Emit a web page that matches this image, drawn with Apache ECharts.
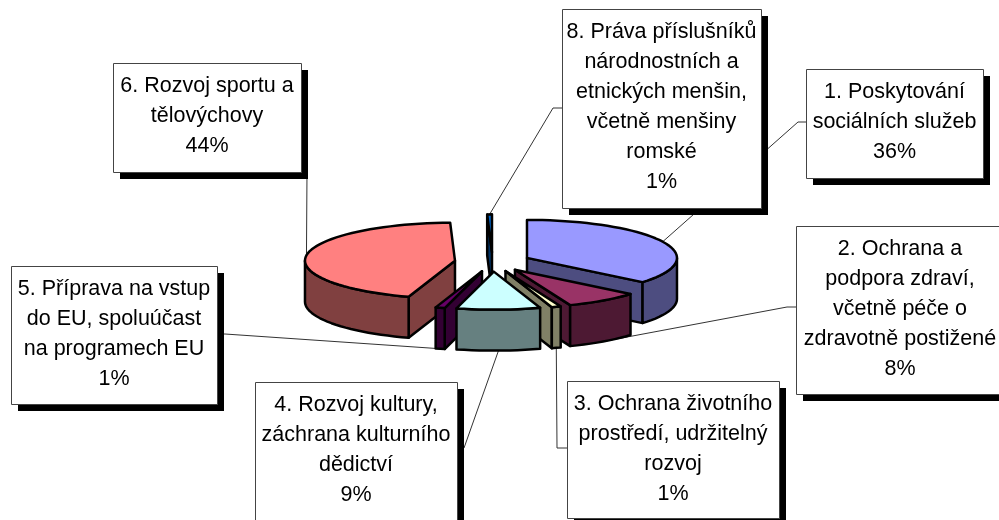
<!DOCTYPE html>
<html>
<head>
<meta charset="utf-8">
<title>Pie</title>
<style>
  html, body { margin: 0; padding: 0; background: #fff; }
  #chart { width: 999px; height: 520px; }
</style>
<script src="https://cdn.jsdelivr.net/npm/echarts@6/dist/echarts.min.js"></script>
</head>
<body>
<div id="chart"></div>
<script>
const categories = [
  '1. Poskytování\nsociálních služeb',
  '2. Ochrana a\npodpora zdraví,\nvčetně péče o\nzdravotně postižené',
  '3. Ochrana životního\nprostředí, udržitelný\nrozvoj',
  '4. Rozvoj kultury,\nzáchrana kulturního\ndědictví',
  '5. Příprava na vstup\ndo EU, spoluúčast\nna programech EU',
  '6. Rozvoj sportu a\ntělovýchovy',
  '8. Práva příslušníků\nnárodnostních a\netnických menšin,\nvčetně menšiny\nromské'
]
const seriesValues = [36, 8, 1, 9, 1, 44.49, 0.51]

const topColors = ['#9999FF', '#993366', '#FFFFCC', '#CCFFFF', '#660066', '#FF8080', '#0066CC']
const wallColors = ['#4D4D80', '#4D1933', '#808066', '#668080', '#330033', '#804040', '#003366']
// back slices first, the ones nearest the viewer last
const drawOrder = [2, 3, 5, 6, 4, 1, 0]

// x, y, width, height of each callout box, then the leader points on the box side
const boxes = [
  [806, 69, 177, 109],
  [796, 226, 208, 168],
  [567, 381, 212, 137],
  [255, 382, 202, 150],
  [11, 266, 206, 138],
  [113, 63, 188, 109],
  [562, 9, 199, 199]
]
const leaders = [
  [[806, 122], [798, 122]],
  [[796, 307], [787, 307]],
  [[567, 448], [557, 448]],
  [[457, 448], [464, 448]],
  [[217, 334], [225, 334]],
  [[307, 172]],
  [[562, 108], [553, 108]]
]

const cx = 492.6
const cy = 262
const rx = 150
const ry = 38
const depth = 41
const explode = 38
const shadow = 7

const total = seriesValues.reduce((a, b) => a + b, 0)

function sliceAngles(idx) {
  let sum = 0
  for (let i = 0; i < idx; i++) sum += seriesValues[i]
  return [sum / total * 360, (sum + seriesValues[idx]) / total * 360]
}

function onRim(apex, deg, down) {
  const r = deg * Math.PI / 180
  return [apex[0] + rx * Math.sin(r), apex[1] - ry * Math.cos(r) + (down || 0)]
}

function arc(apex, from, to, down) {
  const pts = []
  const n = Math.max(1, Math.ceil(Math.abs(to - from) / 3))
  for (let i = 0; i <= n; i++) pts.push(onRim(apex, from + (to - from) * i / n, down))
  return pts
}

function poly(points, fill, z2) {
  return {
    type: 'polygon',
    shape: { points: points },
    style: { fill: fill, stroke: '#000', lineWidth: 2.5, lineJoin: 'round' },
    z2: z2
  }
}

function cutFace(apex, deg, fill, z2) {
  const rim = onRim(apex, deg)
  return poly([apex, rim, [rim[0], rim[1] + depth], [apex[0], apex[1] + depth]], fill, z2)
}

function renderItem(params) {
  const idx = params.dataIndex
  const angles = sliceAngles(idx)
  const a0 = angles[0]
  const a1 = angles[1]
  const mid = (a0 + a1) / 2
  const midRad = mid * Math.PI / 180
  const apex = [cx + explode * Math.sin(midRad), cy - explode * ry / rx * Math.cos(midRad)]
  const base = 100 + drawOrder[idx] * 10
  const children = []

  if (Math.sin(a0 * Math.PI / 180) < 0) children.push(cutFace(apex, a0, wallColors[idx], base))
  if (Math.sin(a1 * Math.PI / 180) > 0) children.push(cutFace(apex, a1, wallColors[idx], base + 1))
  const wallFrom = Math.max(a0, 90)
  const wallTo = Math.min(a1, 270)
  if (wallTo > wallFrom) {
    const wall = arc(apex, wallFrom, wallTo).concat(arc(apex, wallTo, wallFrom, depth))
    children.push(poly(wall, wallColors[idx], base + 2))
  }
  children.push(poly([apex].concat(arc(apex, a0, a1)), topColors[idx], base + 3))

  // leader runs from the box to the middle of the slice rim
  const anchor = onRim(apex, mid, Math.cos(midRad) < 0 ? depth : 0)
  children.push({
    type: 'polyline',
    shape: { points: leaders[idx].concat([anchor]) },
    style: { fill: null, stroke: '#333', lineWidth: 1 },
    z2: 50
  })

  const box = boxes[idx]
  children.push({
    type: 'rect',
    shape: { x: box[0] + shadow, y: box[1] + shadow, width: box[2], height: box[3] },
    style: { fill: '#000' },
    z2: 200
  })
  children.push({
    type: 'rect',
    shape: { x: box[0] + 0.5, y: box[1] + 0.5, width: box[2], height: box[3] },
    style: { fill: '#fff', stroke: '#444', lineWidth: 1 },
    z2: 201
  })
  children.push({
    type: 'text',
    style: {
      text: categories[idx] + '\n' + Math.round(seriesValues[idx] / total * 100) + '%',
      x: box[0] + box[2] / 2,
      y: box[1] + 8,
      align: 'center',
      verticalAlign: 'top',
      fontFamily: '"Liberation Sans", Arial, sans-serif',
      fontSize: 21.5,
      lineHeight: 30,
      fill: '#000'
    },
    z2: 202
  })
  return { type: 'group', children: children }
}

const chart = echarts.init(document.getElementById('chart'))
chart.setOption({
  animation: false,
  backgroundColor: '#fff',
  series: [
    {
      type: 'custom',
      coordinateSystem: 'none',
      silent: true,
      renderItem: renderItem,
      data: seriesValues
    }
  ]
})
</script>
</body>
</html>
